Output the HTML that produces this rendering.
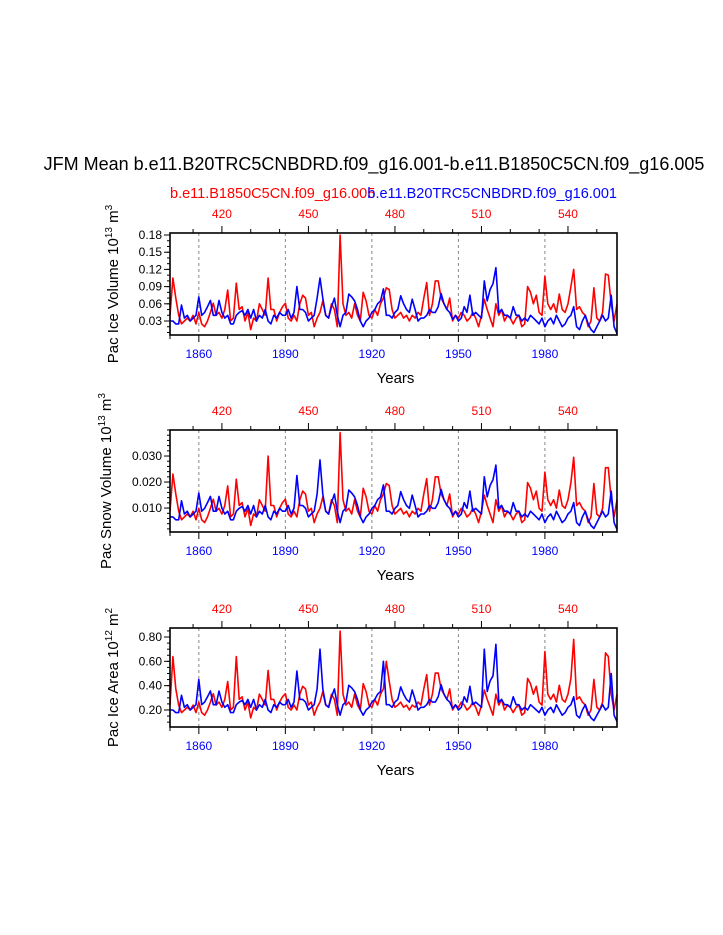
<!DOCTYPE html>
<html><head><meta charset="utf-8">
<style>
html,body{margin:0;padding:0;background:#fff;overflow:hidden;}
svg{display:block;font-family:"Liberation Sans",Arial,sans-serif;}
</style></head>
<body>
<svg id="chart" width="723" height="935" viewBox="0 0 723 935">
<text x="374" y="170" font-size="18" text-anchor="middle">JFM Mean b.e11.B20TRC5CNBDRD.f09_g16.001-b.e11.B1850C5CN.f09_g16.005</text>
<text x="170" y="198" font-size="14.5" fill="#f00">b.e11.B1850C5CN.f09_g16.005</text>
<text x="617" y="198" font-size="14.5" fill="#00f" text-anchor="end">b.e11.B20TRC5CNBDRD.f09_g16.001</text>
</svg>
<script>
const years = [];
for (let y = 1850; y <= 2005; y++) years.push(y);
const bottomTicks = [1860, 1890, 1920, 1950, 1980];
const topTicks = [420, 450, 480, 510, 540];

const volRed = [.040,.105,.070,.040,.025,.030,.035,.030,.040,.025,
.045,.025,.020,.030,.045,.061,.040,.045,.035,.050,
.084,.030,.035,.096,.050,.055,.030,.045,.015,.035,
.030,.060,.050,.040,.105,.050,.050,.030,.045,.055,
.061,.035,.030,.040,.030,.060,.075,.070,.040,.045,
.020,.035,.045,.065,.040,.035,.060,.050,.020,.180,
.060,.040,.045,.035,.060,.040,.030,.080,.065,.040,
.035,.050,.040,.060,.070,.088,.085,.050,.035,.040,
.045,.035,.040,.030,.040,.035,.045,.040,.070,.097,
.040,.060,.100,.100,.070,.060,.050,.070,.030,.040,
.035,.045,.040,.030,.035,.045,.035,.020,.040,.068,
.050,.035,.020,.060,.040,.050,.030,.040,.035,.025,
.035,.040,.020,.025,.090,.080,.060,.075,.045,.040,
.108,.060,.050,.060,.045,.077,.050,.045,.060,.090,
.120,.050,.055,.045,.040,.020,.030,.088,.035,.030,
.045,.112,.110,.060,.030,.060];
const volBlue = [.030,.030,.025,.025,.058,.035,.040,.030,.035,.040,
.072,.040,.045,.055,.066,.040,.040,.066,.045,.035,
.040,.025,.025,.040,.045,.048,.040,.050,.035,.050,
.030,.040,.035,.050,.030,.025,.040,.035,.045,.040,
.040,.050,.035,.045,.090,.050,.050,.045,.030,.035,
.040,.070,.105,.070,.040,.035,.055,.070,.040,.020,
.040,.045,.077,.072,.065,.050,.030,.020,.030,.035,
.045,.050,.060,.065,.086,.040,.040,.035,.045,.050,
.074,.060,.050,.045,.068,.050,.030,.035,.035,.040,
.050,.045,.045,.055,.078,.060,.050,.045,.033,.040,
.030,.035,.055,.045,.075,.040,.045,.040,.035,.100,
.065,.085,.095,.123,.045,.050,.040,.040,.035,.055,
.040,.040,.030,.035,.030,.040,.035,.030,.025,.035,
.020,.030,.035,.025,.040,.030,.020,.025,.035,.040,
.055,.020,.015,.030,.040,.025,.015,.010,.020,.030,
.040,.030,.035,.075,.020,.008];
const snowRed = [.0088,.0231,.0154,.0088,.0055,.0066,.0077,.0066,.0088,.0055,
.0099,.0055,.0044,.0066,.0099,.0134,.0088,.0099,.0077,.011,
.0185,.0066,.0077,.0211,.011,.0121,.0066,.0099,.0033,.0077,
.0066,.0132,.011,.0088,.0300,.011,.011,.0066,.0099,.0121,
.0134,.0077,.0066,.0088,.0066,.0132,.0165,.0154,.0088,.0099,
.0044,.0077,.0099,.0143,.0088,.0077,.0132,.011,.0044,.039,
.0132,.0088,.0099,.0077,.0132,.0088,.0066,.0176,.0143,.0088,
.0077,.011,.0088,.0132,.0154,.0194,.0187,.011,.0077,.0088,
.0099,.0077,.0088,.0066,.0088,.0077,.0099,.0088,.0154,.0213,
.0088,.0132,.022,.022,.0154,.0132,.011,.0154,.0066,.0088,
.0077,.0099,.0088,.0066,.0077,.0099,.0077,.0044,.0088,.015,
.011,.0077,.0044,.0132,.0088,.011,.0066,.0088,.0077,.0055,
.0077,.0088,.0044,.0055,.0198,.0176,.0132,.0165,.0099,.0088,
.0238,.0132,.011,.0132,.0099,.0169,.011,.0099,.0132,.0198,
.0295,.011,.0121,.0099,.0088,.0044,.0066,.0194,.0077,.0066,
.0099,.0255,.0255,.0132,.0066,.0132];
const snowBlue = [.0066,.0066,.0055,.0055,.0128,.0077,.0088,.0066,.0077,.0088,
.0158,.0088,.0099,.0121,.0145,.0088,.0088,.0145,.0099,.0077,
.0088,.0055,.0055,.0088,.0099,.0106,.0088,.011,.0077,.011,
.0066,.0088,.0077,.011,.0066,.0055,.0088,.0077,.0099,.0088,
.0088,.011,.0077,.0099,.0225,.011,.011,.0099,.0066,.0077,
.0088,.0154,.0285,.0154,.0088,.0077,.0121,.0154,.0088,.0044,
.0088,.0099,.0169,.0158,.0143,.011,.0066,.0044,.0066,.0077,
.0099,.011,.0132,.0143,.0189,.0088,.0088,.0077,.0099,.011,
.0163,.0132,.011,.0099,.015,.011,.0066,.0077,.0077,.0088,
.011,.0099,.0099,.0121,.0172,.0132,.011,.0099,.0073,.0088,
.0066,.0077,.0121,.0099,.0165,.0088,.0099,.0088,.0077,.022,
.0143,.0187,.0209,.0265,.0099,.011,.0088,.0088,.0077,.0121,
.0088,.0088,.0066,.0077,.0066,.0088,.0077,.0066,.0055,.0077,
.0044,.0066,.0077,.0055,.0088,.0066,.0044,.0055,.0077,.0088,
.0121,.0044,.0033,.0066,.0088,.0055,.0033,.0022,.0044,.0066,
.0088,.0066,.0077,.0165,.0044,.0018];
const areaRed = [.24,.64,.373,.24,.178,.2,.222,.2,.24,.178,
.265,.178,.157,.2,.265,.334,.24,.265,.222,.287,
.434,.2,.222,.64,.287,.308,.2,.265,.135,.222,
.2,.33,.287,.24,.525,.287,.287,.2,.265,.308,
.334,.222,.2,.24,.2,.33,.395,.373,.24,.265,
.157,.222,.265,.351,.24,.222,.33,.287,.157,.849,
.33,.24,.265,.222,.33,.24,.2,.416,.351,.24,
.222,.287,.24,.33,.373,.6,.438,.287,.222,.24,
.265,.222,.24,.2,.24,.222,.265,.24,.373,.49,
.24,.33,.503,.503,.373,.33,.287,.373,.2,.24,
.222,.265,.24,.2,.222,.265,.222,.157,.24,.364,
.287,.222,.157,.33,.24,.287,.2,.24,.222,.178,
.222,.24,.157,.178,.46,.416,.33,.395,.265,.24,
.68,.33,.287,.33,.265,.403,.287,.265,.33,.46,
.78,.287,.308,.265,.24,.157,.2,.451,.222,.2,
.265,.67,.64,.33,.2,.33];
const areaBlue = [.2,.2,.178,.178,.321,.222,.243,.2,.222,.243,
.45,.243,.265,.308,.356,.243,.243,.356,.265,.222,
.243,.178,.178,.243,.265,.278,.243,.287,.222,.287,
.2,.243,.222,.287,.2,.178,.243,.222,.265,.243,
.243,.287,.222,.265,.52,.287,.287,.265,.2,.222,
.243,.373,.7,.373,.243,.222,.308,.373,.243,.157,
.243,.265,.403,.382,.351,.287,.2,.157,.2,.222,
.265,.287,.33,.351,.6,.243,.243,.222,.265,.287,
.39,.33,.287,.265,.364,.287,.2,.222,.222,.243,
.287,.265,.265,.308,.408,.33,.287,.265,.213,.243,
.2,.222,.308,.265,.395,.243,.265,.243,.222,.7,
.351,.438,.481,.74,.265,.287,.243,.243,.222,.308,
.243,.243,.2,.222,.2,.243,.222,.2,.178,.222,
.157,.2,.222,.178,.243,.2,.157,.178,.222,.243,
.308,.157,.135,.2,.243,.178,.135,.113,.157,.2,
.243,.2,.222,.5,.157,.105];

const volTicks = ["0.03","0.06","0.09","0.12","0.15","0.18"];
const snowTicks = ["0.010","0.020","0.030"];
const areaTicks = ["0.20","0.40","0.60","0.80"];

const NS = "http://www.w3.org/2000/svg";
const svg = document.getElementById("chart");
const X0 = 170, X1 = 617;
function xYear(y){ return X0 + (y - 1850) * (X1 - X0) / 155; }
function xModel(m){ return X0 + (m - 402) * (X1 - X0) / 155; }
function mk(tag, attrs, parent){
  const e = document.createElementNS(NS, tag);
  for (const k in attrs) e.setAttribute(k, attrs[k]);
  (parent || svg).appendChild(e);
  return e;
}

function panel(cfg){
  const g = mk("g", {});
  
  
  const yT = cfg.top, yB = cfg.bottom;
  const yS = v => yB - (v - cfg.min) * (yB - yT) / (cfg.max - cfg.min);
  bottomTicks.forEach(t => {
    const l = mk("line", {x1: xYear(t), x2: xYear(t), y1: yT, y2: yB, stroke: "#888", "stroke-width": 1, "stroke-dasharray": "3,3"}, g);
    
    
  });
  [[cfg.red, "#f00", "red"], [cfg.blue, "#00f", "blue"]].forEach(([arr, col, nm]) => {
    const pts = arr.map((v, i) => xYear(years[i]).toFixed(1) + "," + yS(v).toFixed(1)).join(" ");
    const p = mk("polyline", {points: pts, fill: "none", stroke: col, "stroke-width": 1.6, "stroke-linejoin": "round"}, g);
    
    
  });
  const fr = mk("rect", {x: X0, y: yT, width: X1 - X0, height: yB - yT, fill: "none", stroke: "#000", "stroke-width": 1.6}, g);
  
  
  for (let y = 1850; y <= 2005; y += 10) {
    const major = (y - 1860) % 30 === 0;
    mk("line", {x1: xYear(y), x2: xYear(y), y1: yB, y2: yB + (major ? 7 : 4), stroke: "#000", "stroke-width": 1}, g);
  }
  bottomTicks.forEach(t => {
    const tx = mk("text", {x: xYear(t), y: yB + 23, "font-size": 12, fill: "#00f", "text-anchor": "middle"}, g);
    tx.textContent = t;
    
    
  });
  for (let m = 410; m <= 557; m += 10) {
    const major = (m - 420) % 30 === 0;
    mk("line", {x1: xModel(m), x2: xModel(m), y1: yT, y2: yT - (major ? 7 : 4), stroke: "#000", "stroke-width": 1}, g);
  }
  topTicks.forEach(t => {
    const tx = mk("text", {x: xModel(t), y: yT - 15, "font-size": 12, fill: "#f00", "text-anchor": "middle"}, g);
    tx.textContent = t;
    
    
  });
  for (let v = cfg.minorStart; v <= cfg.max + 1e-9; v += cfg.minorStep) {
    mk("line", {x1: X0, x2: X0 - 3, y1: yS(v), y2: yS(v), stroke: "#000", "stroke-width": 1}, g);
  }
  cfg.ticks.forEach(t => {
    const yy = yS(parseFloat(t));
    mk("line", {x1: X0, x2: X0 - 6, y1: yy, y2: yy, stroke: "#000", "stroke-width": 1}, g);
    const tx = mk("text", {x: X0 - 8, y: yy + 4, "font-size": 12, "text-anchor": "end"}, g);
    tx.textContent = t;
    
    
  });
  const xt = mk("text", {x: (X0 + X1) / 2 + 2, y: yB + 48, "font-size": 15, "text-anchor": "middle"}, g);
  xt.textContent = "Years";
  
  
  const cy = (yT + yB) / 2;
  const yt = mk("text", {x: 0, y: 0, "font-size": 15, "text-anchor": "middle", transform: "translate(" + cfg.ytx + "," + cy + ") rotate(-90)"}, g);
  yt.innerHTML = cfg.label + ' 10<tspan dy="-6" font-size="10">' + cfg.exp + '</tspan><tspan dy="6"> m</tspan><tspan dy="-6" font-size="10">' + cfg.mexp + '</tspan>';
  
  
}

panel({name: "ice-volume", top: 233, bottom: 335, min: 0.0056, max: 0.1835, red: volRed, blue: volBlue, ticks: volTicks, minorStart: 0.01, minorStep: 0.01, label: "Pac Ice Volume", exp: "13", mexp: "3", ytx: 118});
panel({name: "snow-volume", top: 430, bottom: 532, min: 0.0008, max: 0.040, red: snowRed, blue: snowBlue, ticks: snowTicks, minorStart: 0.002, minorStep: 0.002, label: "Pac Snow Volume", exp: "13", mexp: "3", ytx: 111});
panel({name: "ice-area", top: 628, bottom: 727, min: 0.06, max: 0.874, red: areaRed, blue: areaBlue, ticks: areaTicks, minorStart: 0.1, minorStep: 0.05, label: "Pac Ice Area", exp: "12", mexp: "2", ytx: 118});
</script>
</body></html>
